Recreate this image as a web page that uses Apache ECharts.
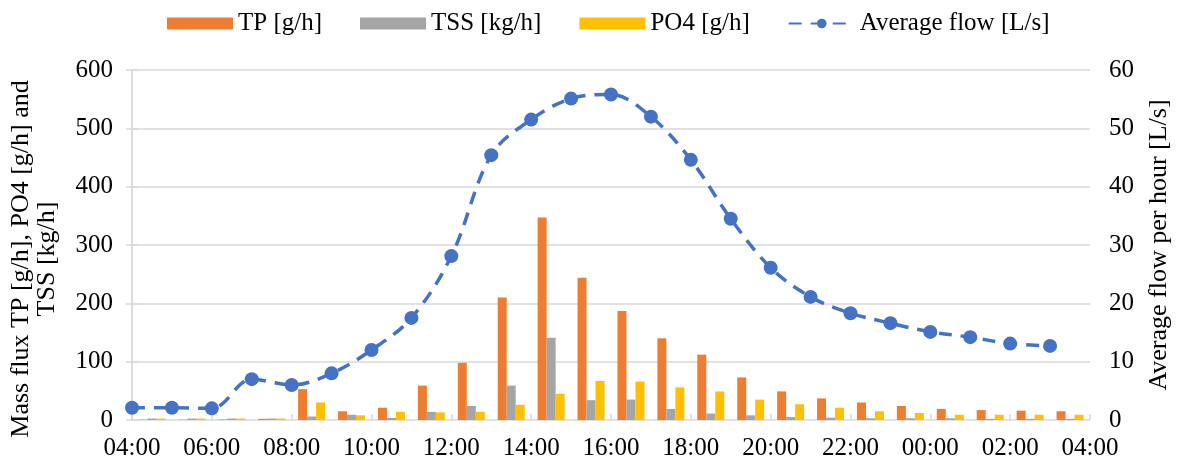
<!DOCTYPE html>
<html>
<head>
<meta charset="utf-8">
<script src="https://cdn.jsdelivr.net/npm/echarts@6/dist/echarts.min.js"></script>
<style>
  html, body { margin: 0; padding: 0; background: #ffffff; }
  #chart { width: 1180px; height: 464px; }
</style>
</head>
<body>
<div id="chart"></div>
<script>
// Hourly sampling, starting at 04:00 and running for one full day
const hours = ['04:00','05:00','06:00','07:00','08:00','09:00','10:00','11:00',
               '12:00','13:00','14:00','15:00','16:00','17:00','18:00','19:00',
               '20:00','21:00','22:00','23:00','00:00','01:00','02:00','03:00'];

// Mass flux per hourly interval (interval starting at the hour above)
const tp  = [0.5, 0.5, 0.8, 2, 53, 15, 21, 59, 98, 210, 347, 244, 187, 140, 112, 73, 49, 37, 30, 24, 19, 17, 16, 15];
const tss = [2.5, 2.5, 2.5, 2.5, 6, 9, 3.5, 14, 24, 59, 141, 34, 35, 19, 11, 8, 5, 4, 3, 3, 3, 2, 2, 2];
const po4 = [2.5, 2.5, 2.5, 2.5, 30, 8, 14, 13, 14, 26, 45, 67, 66, 56, 49, 35, 27, 21, 15, 12, 9, 9, 9, 9];

// Average flow at each hour mark [L/s]
const flow = [2.1, 2.1, 2.0, 7.0, 6.0, 8.0, 12.0, 17.5, 28.1, 45.4, 51.5, 55.1, 55.8, 52.0,
              44.6, 34.5, 26.1, 21.1, 18.3, 16.6, 15.1, 14.2, 13.1, 12.7];

// Axis tick labels, every two hours
const tickLabels = ['04:00','06:00','08:00','10:00','12:00','14:00','16:00',
                    '18:00','20:00','22:00','00:00','02:00','04:00'];

const FONT = '"Liberation Serif", "Times New Roman", serif';
const GRID = '#d9d9d9';

// Bars sit in the middle of each hourly interval, flow points sit on the hour
const barData = arr => arr.map((v, i) => [i + 0.5, v]);
const lineData = flow.map((v, i) => [i, v]);

const chart = echarts.init(document.getElementById('chart'), null, { renderer: 'canvas' });

chart.setOption({
  backgroundColor: '#ffffff',
  animation: false,
  textStyle: { fontFamily: FONT, color: '#000' },
  legend: {
    top: 6,
    left: 162,
    itemWidth: 66,
    itemHeight: 12,
    itemGap: 38,
    textStyle: { fontFamily: FONT, fontSize: 25, color: '#000' },
    data: [
      { name: 'TP [g/h]', icon: 'rect' },
      { name: 'TSS [kg/h]', icon: 'rect' },
      { name: 'PO4 [g/h]', icon: 'rect' },
      { name: 'Average flow [L/s]' }
    ]
  },
  grid: { left: 129, right: 90, top: 70, bottom: 44, containLabel: false },
  xAxis: [
    {
      type: 'value',
      position: 'bottom',
      min: 0, max: 24, interval: 2,
      axisLine: { show: false },
      axisTick: { show: false },
      splitLine: { show: false },
      axisLabel: {
        fontFamily: FONT, fontSize: 25, color: '#000', margin: 16,
        formatter: v => tickLabels[Math.round(v / 2)]
      }
    },
    {
      type: 'value',
      position: 'top',
      min: 0, max: 24, interval: 2,
      axisLine: { show: false },
      axisTick: { show: true, length: 6, lineStyle: { color: GRID, width: 1.5 } },
      axisLabel: { show: false },
      splitLine: { show: false }
    }
  ],
  yAxis: [
    {
      type: 'value',
      min: 0, max: 600, interval: 100,
      name: 'Mass flux TP [g/h], PO4 [g/h] and\nTSS [kg/h]',
      nameLocation: 'middle',
      nameRotate: 90,
      nameGap: 72,
      nameTextStyle: { fontFamily: FONT, fontSize: 26, color: '#000', lineHeight: 26, padding: [0, 28, 0, 0] },
      axisLine: { show: true, lineStyle: { color: GRID, width: 1.5 } },
      axisTick: { show: true, length: 6, lineStyle: { color: GRID, width: 1.5 } },
      splitLine: { show: true, lineStyle: { color: GRID, width: 1.5 } },
      axisLabel: { fontFamily: FONT, fontSize: 25, color: '#000', margin: 19 }
    },
    {
      type: 'value',
      min: 0, max: 60, interval: 10,
      position: 'right',
      name: 'Average flow per hour [L/s]',
      nameLocation: 'middle',
      nameRotate: 90,
      nameGap: 56,
      nameTextStyle: { fontFamily: FONT, fontSize: 26, color: '#000' },
      axisLine: { show: true, lineStyle: { color: GRID, width: 1.5 } },
      axisTick: { show: true, length: 6, lineStyle: { color: GRID, width: 1.5 } },
      splitLine: { show: false },
      axisLabel: { fontFamily: FONT, fontSize: 25, color: '#000', margin: 19 }
    }
  ],
  series: [
    {
      name: 'TP [g/h]', type: 'bar', xAxisIndex: 0, yAxisIndex: 0,
      data: barData(tp), barWidth: 9, barGap: '0%',
      itemStyle: { color: '#ED7D31' }
    },
    {
      name: 'TSS [kg/h]', type: 'bar', xAxisIndex: 0, yAxisIndex: 0,
      data: barData(tss), barWidth: 9, barGap: '0%',
      itemStyle: { color: '#A5A5A5' }
    },
    {
      name: 'PO4 [g/h]', type: 'bar', xAxisIndex: 0, yAxisIndex: 0,
      data: barData(po4), barWidth: 9, barGap: '0%',
      itemStyle: { color: '#FFC000' }
    },
    {
      name: 'Average flow [L/s]', type: 'line', xAxisIndex: 0, yAxisIndex: 1,
      data: lineData,
      smooth: 0.35,
      symbol: 'circle', symbolSize: 14,
      lineStyle: { color: '#4472C4', width: 3.5, type: [13, 9] },
      itemStyle: { color: '#4472C4' },
      z: 5
    }
  ]
});
</script>
</body>
</html>
